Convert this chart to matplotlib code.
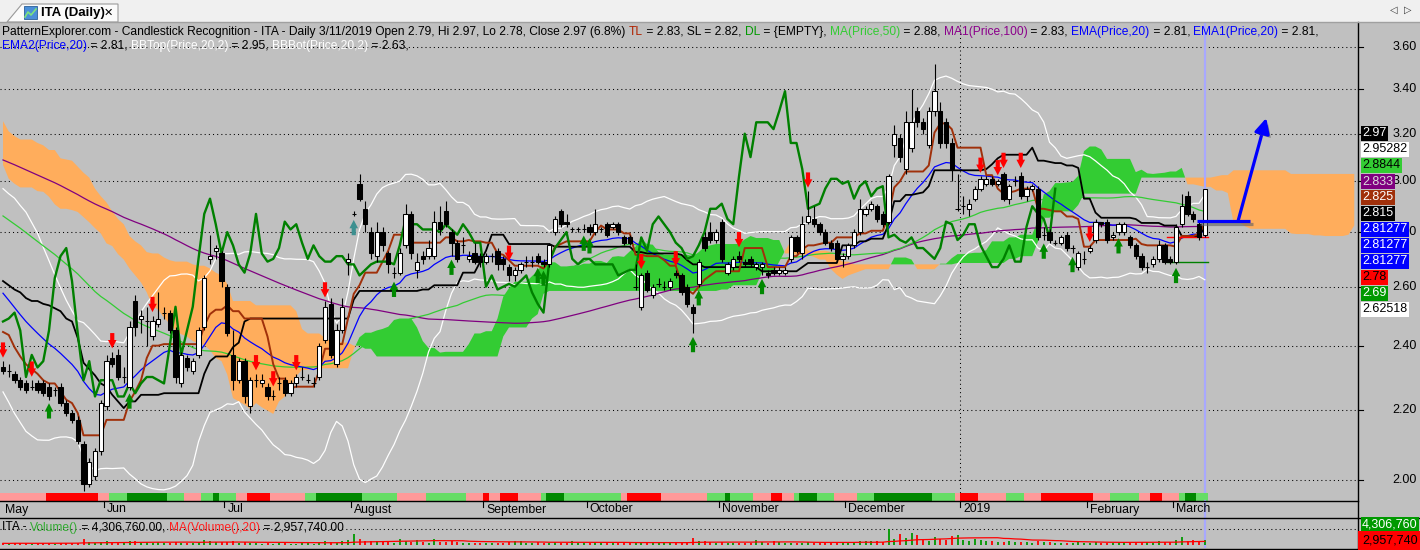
import numpy as np
import pandas as pd
import matplotlib
matplotlib.use('Agg')
import matplotlib.pyplot as plt
import matplotlib.patheffects as pe
from matplotlib.patches import Rectangle, Polygon
from matplotlib.lines import Line2D
from matplotlib.ticker import NullLocator
from matplotlib.transforms import blended_transform_factory as blend, ScaledTranslation

plt.rcParams['font.family'] = ['Liberation Sans', 'DejaVu Sans']

W, H = 1420, 550
BG = '#c0c0c0'

# closes before the first bar on screen (only feed the indicators)
pre_close = [3.28, 3.31, 3.30, 3.34, 3.37, 3.33, 3.29, 3.26, 3.29, 3.33,
             3.36, 3.40, 3.37, 3.34, 3.31, 3.28, 3.25, 3.27, 3.31, 3.35,
             3.39, 3.42, 3.38, 3.35, 3.32, 3.36, 3.40, 3.44, 3.47, 3.50,
             3.48, 3.45, 3.46, 3.41, 3.38, 3.40, 3.35, 3.31, 3.33, 3.28,
             3.24, 3.26, 3.21, 3.18, 3.20, 3.15, 3.12, 3.14, 3.10, 3.07, 3.09,
             3.11, 3.08, 3.05, 3.09, 3.12, 3.10, 3.06, 3.03, 3.07, 3.10,
             3.08, 3.04, 3.01, 3.05, 3.09, 3.11, 3.07, 3.04, 3.08, 3.06,
             3.03, 3.05, 3.08, 3.04,
             2.92, 2.88, 2.85, 2.89, 2.86, 2.82, 2.84, 2.80, 2.83, 2.78,
             2.81, 2.77, 2.79, 2.74,
             2.70, 2.66, 2.62, 2.57, 2.55, 2.50, 2.46, 2.42, 2.39, 2.36, 2.33]

# daily bars, May 2018 - 11 Mar 2019
opens = [2.33, 2.32, 2.31, 2.29, 2.28, 2.27, 2.28, 2.28, 2.27, 2.26,
         2.27, 2.22, 2.19, 2.17, 2.10, 1.99, 2.01, 2.08, 2.21, 2.36,
         2.37, 2.30, 2.27, 2.55, 2.49, 2.48, 2.43, 2.47, 2.51, 2.51,
         2.45, 2.28, 2.36, 2.32, 2.37, 2.46, 2.70, 2.73, 2.72, 2.60,
         2.37, 2.29, 2.35, 2.21, 2.29, 2.28, 2.27, 2.24, 2.28, 2.29,
         2.25, 2.28, 2.30, 2.29, 2.28, 2.30, 2.42, 2.54, 2.34, 2.45,
         2.69, 2.87, 2.99, 2.89, 2.80, 2.71, 2.80, 2.72, 2.65, 2.65,
         2.75, 2.87, 2.66, 2.71, 2.71, 2.71, 2.84, 2.88, 2.80, 2.76,
         2.75, 2.70, 2.72, 2.71, 2.69, 2.71, 2.73, 2.70, 2.67, 2.64,
         2.66, 2.69, 2.69, 2.71, 2.69, 2.68, 2.80, 2.88, 2.84, 2.81,
         2.81, 2.81, 2.82, 2.80, 2.81, 2.83, 2.82, 2.83, 2.78, 2.78,
         2.60, 2.53, 2.65, 2.57, 2.61, 2.60, 2.60, 2.65, 2.64, 2.60,
         2.53, 2.61, 2.78, 2.80, 2.77, 2.84, 2.65, 2.67, 2.71, 2.69,
         2.70, 2.67, 2.67, 2.65, 2.66, 2.65, 2.65, 2.70, 2.78, 2.72,
         2.84, 2.85, 2.83, 2.80, 2.76, 2.76, 2.70, 2.71, 2.75, 2.80,
         2.87, 2.89, 2.90, 2.87, 2.84, 3.15, 3.18, 3.05, 3.14, 3.30,
         3.25, 3.15, 3.30, 3.30, 3.25, 3.16, 2.89, 2.90, 2.89, 2.93,
         2.97, 2.99, 3.01, 2.99, 3.03, 2.93, 3.00, 3.02, 2.94, 2.97,
         2.97, 2.79, 2.80, 2.76, 2.76, 2.79, 2.74, 2.67, 2.70, 2.73,
         2.77, 2.84, 2.84, 2.78, 2.80, 2.80, 2.78, 2.75, 2.71, 2.67,
         2.68, 2.70, 2.75, 2.70, 2.69, 2.83, 2.94, 2.87, 2.83, 2.79]
highs = [2.35, 2.34, 2.32, 2.30, 2.29, 2.29, 2.29, 2.29, 2.28, 2.27,
         2.28, 2.23, 2.20, 2.18, 2.11, 2.06, 2.09, 2.23, 2.37, 2.38,
         2.39, 2.33, 2.48, 2.57, 2.52, 2.53, 2.50, 2.58, 2.53, 2.52,
         2.46, 2.38, 2.37, 2.36, 2.46, 2.64, 2.79, 2.75, 2.73, 2.61,
         2.45, 2.36, 2.36, 2.30, 2.31, 2.31, 2.28, 2.26, 2.30, 2.30,
         2.29, 2.31, 2.33, 2.31, 2.30, 2.41, 2.55, 2.56, 2.47, 2.56,
         2.72, 2.88, 3.03, 2.92, 2.82, 2.84, 2.82, 2.73, 2.67, 2.74,
         2.91, 2.88, 2.72, 2.73, 2.77, 2.88, 2.90, 2.92, 2.81, 2.77,
         2.78, 2.73, 2.76, 2.72, 2.72, 2.72, 2.74, 2.71, 2.68, 2.67,
         2.69, 2.71, 2.71, 2.72, 2.70, 2.76, 2.86, 2.89, 2.87, 2.82,
         2.82, 2.83, 2.83, 2.89, 2.82, 2.84, 2.84, 2.84, 2.79, 2.79,
         2.68, 2.65, 2.66, 2.61, 2.63, 2.62, 2.63, 2.66, 2.65, 2.61,
         2.54, 2.70, 2.80, 2.84, 2.81, 2.85, 2.69, 2.71, 2.73, 2.70,
         2.71, 2.69, 2.69, 2.66, 2.67, 2.67, 2.67, 2.79, 2.79, 2.86,
         2.96, 2.90, 2.84, 2.81, 2.77, 2.77, 2.72, 2.76, 2.81, 2.93,
         2.90, 2.92, 2.91, 2.88, 3.03, 3.24, 3.20, 3.30, 3.40, 3.32,
         3.27, 3.32, 3.52, 3.34, 3.27, 3.18, 3.03, 2.94, 2.93, 2.98,
         3.02, 3.02, 3.02, 3.01, 3.04, 2.99, 3.02, 3.04, 2.98, 2.99,
         2.98, 2.82, 2.81, 2.77, 2.79, 2.80, 2.75, 2.73, 2.73, 2.75,
         2.85, 2.84, 2.85, 2.80, 2.84, 2.84, 2.79, 2.76, 2.72, 2.69,
         2.71, 2.77, 2.76, 2.71, 2.83, 2.95, 2.96, 2.88, 2.84, 2.97]
lows = [2.31, 2.30, 2.28, 2.26, 2.25, 2.26, 2.25, 2.24, 2.23, 2.24,
        2.21, 2.18, 2.16, 2.10, 1.97, 1.98, 2.00, 2.07, 2.20, 2.33,
        2.29, 2.28, 2.26, 2.43, 2.44, 2.40, 2.42, 2.46, 2.49, 2.44,
        2.28, 2.27, 2.32, 2.31, 2.36, 2.45, 2.68, 2.70, 2.60, 2.43,
        2.26, 2.28, 2.22, 2.19, 2.27, 2.27, 2.23, 2.23, 2.26, 2.24,
        2.24, 2.27, 2.29, 2.28, 2.27, 2.29, 2.41, 2.36, 2.33, 2.44,
        2.64, 2.86, 2.92, 2.80, 2.70, 2.69, 2.73, 2.65, 2.63, 2.64,
        2.74, 2.70, 2.63, 2.68, 2.70, 2.70, 2.79, 2.82, 2.71, 2.69,
        2.72, 2.69, 2.68, 2.67, 2.68, 2.69, 2.66, 2.66, 2.62, 2.62,
        2.65, 2.67, 2.67, 2.68, 2.67, 2.67, 2.79, 2.82, 2.82, 2.80,
        2.80, 2.80, 2.79, 2.79, 2.80, 2.78, 2.81, 2.79, 2.75, 2.75,
        2.59, 2.52, 2.58, 2.56, 2.60, 2.59, 2.59, 2.63, 2.57, 2.53,
        2.44, 2.60, 2.73, 2.76, 2.76, 2.69, 2.64, 2.66, 2.69, 2.67,
        2.67, 2.66, 2.64, 2.63, 2.64, 2.64, 2.64, 2.69, 2.72, 2.70,
        2.83, 2.82, 2.79, 2.75, 2.73, 2.69, 2.67, 2.70, 2.74, 2.79,
        2.86, 2.88, 2.84, 2.82, 2.83, 3.10, 3.08, 3.03, 3.12, 3.23,
        3.20, 3.14, 3.28, 3.14, 3.14, 3.00, 2.88, 2.87, 2.86, 2.92,
        2.96, 2.98, 2.98, 2.98, 2.92, 2.91, 2.98, 2.93, 2.92, 2.96,
        2.77, 2.77, 2.76, 2.75, 2.75, 2.73, 2.72, 2.66, 2.68, 2.72,
        2.76, 2.82, 2.76, 2.77, 2.79, 2.79, 2.74, 2.70, 2.66, 2.65,
        2.67, 2.69, 2.68, 2.68, 2.68, 2.82, 2.86, 2.84, 2.77, 2.78]
closes = [2.32, 2.32, 2.29, 2.27, 2.26, 2.27, 2.26, 2.25, 2.24, 2.26,
          2.22, 2.19, 2.17, 2.11, 1.99, 2.05, 2.08, 2.22, 2.35, 2.34,
          2.30, 2.30, 2.46, 2.46, 2.50, 2.48, 2.48, 2.49, 2.51, 2.45,
          2.30, 2.37, 2.33, 2.35, 2.45, 2.63, 2.71, 2.74, 2.62, 2.44,
          2.29, 2.35, 2.24, 2.29, 2.29, 2.29, 2.24, 2.24, 2.28, 2.25,
          2.28, 2.30, 2.30, 2.29, 2.28, 2.40, 2.53, 2.37, 2.45, 2.53,
          2.70, 2.87, 2.93, 2.83, 2.72, 2.80, 2.75, 2.68, 2.65, 2.72,
          2.87, 2.72, 2.69, 2.70, 2.74, 2.84, 2.81, 2.83, 2.76, 2.70,
          2.75, 2.71, 2.69, 2.69, 2.71, 2.71, 2.68, 2.68, 2.64, 2.66,
          2.68, 2.69, 2.69, 2.69, 2.68, 2.75, 2.85, 2.83, 2.83, 2.81,
          2.81, 2.81, 2.80, 2.83, 2.81, 2.79, 2.83, 2.80, 2.76, 2.76,
          2.60, 2.64, 2.59, 2.60, 2.61, 2.60, 2.62, 2.64, 2.58, 2.54,
          2.51, 2.69, 2.74, 2.77, 2.80, 2.70, 2.68, 2.70, 2.70, 2.68,
          2.68, 2.68, 2.68, 2.64, 2.65, 2.66, 2.66, 2.78, 2.73, 2.83,
          2.86, 2.83, 2.80, 2.76, 2.74, 2.70, 2.71, 2.75, 2.80, 2.89,
          2.89, 2.91, 2.85, 2.83, 3.02, 3.20, 3.10, 3.25, 3.25, 3.25,
          3.22, 3.30, 3.39, 3.16, 3.16, 3.05, 2.89, 2.90, 2.91, 2.97,
          3.01, 3.01, 2.99, 3.00, 2.93, 2.98, 3.00, 2.94, 2.97, 2.98,
          2.78, 2.79, 2.77, 2.76, 2.78, 2.74, 2.74, 2.72, 2.70, 2.74,
          2.84, 2.83, 2.77, 2.79, 2.83, 2.83, 2.75, 2.71, 2.67, 2.67,
          2.70, 2.75, 2.69, 2.69, 2.82, 2.90, 2.87, 2.85, 2.78, 2.97]
# volume in millions of shares
volume_m = [1.2, 1.0, 1.5, 1.3, 1.1, 0.9, 1.4, 1.2, 1.6, 1.0, 1.8, 1.5, 1.3, 2.0,
            5.5, 2.5, 1.8, 2.2, 3.5,
            2.0, 2.6, 1.5, 4.0, 3.2, 1.8, 2.1, 1.6, 2.4, 1.2, 1.7,
            2.8, 2.0, 1.4, 1.3, 2.2, 4.2, 3.8, 2.5, 3.0, 2.9, 3.1,
            1.8, 2.3, 1.9, 1.2, 1.0, 1.5, 0.9, 1.1, 1.3, 1.0, 0.9, 1.2, 1.1, 1.0, 2.2, 3.5, 2.8, 2.0, 3.4,
            5.0, 10.5, 6.0, 4.0, 3.2, 3.6, 2.8, 2.5, 2.0, 5.2, 3.8, 3.0, 4.5, 2.2, 2.0, 5.5, 3.0, 2.6, 3.4, 2.8,
            2.0, 1.6, 1.9, 1.5,
            1.4, 1.6, 2.0, 1.7, 2.2, 4.0, 3.5, 2.0, 1.6, 2.4, 2.0, 1.8, 2.6, 1.5, 1.7, 3.8,
            1.9, 1.5, 1.3, 2.1, 1.4, 1.8, 1.6, 2.2, 1.7, 2.0, 2.3, 1.6, 1.8, 1.4, 1.5, 1.9, 2.5, 2.1, 2.0, 2.8,
            6.2, 4.0, 3.5, 2.4, 2.0, 3.0, 1.8, 1.6, 1.5, 1.4, 1.7, 4.8, 2.5, 2.0, 3.2, 2.2, 1.8, 1.5, 1.6, 1.4,
            2.6, 2.0, 1.7, 1.5, 1.6, 2.4, 1.9, 1.8, 2.2, 3.8, 4.0, 3.2, 3.5, 2.5,
            16.0, 6.0, 10.5, 6.5, 12.0, 10.0, 4.5, 4.0, 7.5, 6.0, 4.5, 9.0, 9.5, 5.0, 4.0, 5.2,
            4.5, 3.8, 4.0, 3.0, 2.8, 3.2, 2.5, 2.6, 2.2, 2.0,
            3.5, 2.4, 2.2, 1.9, 2.0, 1.8, 1.6, 2.2, 1.5, 1.7, 2.6, 1.8, 2.0, 1.6, 2.4,
            2.0, 2.8, 2.5, 3.0, 2.2, 2.0, 3.2, 2.6, 2.4, 4.5, 7.5, 4.0, 5.0, 3.8, 4.3]

month_labels = ['May', 'Jun', 'Jul', 'August', 'September', 'October',
                'November', 'December', '2019', 'February', 'March']
month_bars = [0, 18, 39, 61, 84, 102, 125, 147, 167, 189, 204]

red_arrow_bars = [0, 5, 19, 26, 44, 47, 51, 56, 88, 111, 117, 128, 140,
                  170, 173, 174, 177, 189]
green_arrow_bars = [8, 22, 68, 78, 93, 94, 101, 102, 120, 121, 132,
                    181, 186, 194, 204]
teal_arrow_bars = [61]

# trend strip along the bottom of the price pane: run codes and lengths
strip_codes = 'prplglplgl' 'prplglplpr' 'prplglprpl' 'glprplglpl' 'glprplprpl' 'prplgl'
strip_lengths = [8, 9, 2, 3, 7, 3, 3, 2, 1, 3,
                 2, 4, 6, 2, 8, 6, 5, 7, 3, 1,
                 2, 3, 4, 1, 3, 10, 1, 6, 8, 3,
                 1, 4, 3, 2, 2, 1, 3, 3, 4, 3,
                 10, 4, 1, 3, 5, 3, 3, 9, 3, 5,
                 2, 2, 3, 1, 2, 2]
strip_colors = {'p': '#ff9999', 'r': '#ff0000', 'l': '#66dd66', 'g': '#008800'}

price_levels = [2.0, 2.2, 2.4, 2.6, 2.8, 3.0, 3.2, 3.4, 3.6]

tag_texts = ['2.97', '2.95282', '2.8844', '2.833', '2.825', '2.815',
             '2.81277', '2.81277', '2.81277', '2.78', '2.69', '2.62518']
tag_faces = ['#000000', '#ffffff', '#33cc33', '#800080', '#a0300a', '#000000',
             '#0000ff', '#0000ff', '#0000ff', '#ff0000', '#009900', '#ffffff']
tag_inks = ['white', 'black', 'black', '#dddddd', 'white', 'white',
            'white', 'white', 'white', 'black', 'white', 'black']

assert len(opens) == len(highs) == len(lows) == len(closes) == len(volume_m) == 210
assert len(pre_close) == 100 and sum(strip_lengths) == 210

n = len(closes)
npre = len(pre_close)
x = np.arange(n)
o, h, l, c = map(np.array, (opens, highs, lows, closes))
full = pd.Series(pre_close + closes)


def midrange(s, w):
    return (s.rolling(w).max() + s.rolling(w).min()) / 2


tenkan = midrange(full, 9).to_numpy()[npre:]
kijun = midrange(full, 26).to_numpy()[npre:]
span_a = ((midrange(full, 9) + midrange(full, 26)) / 2).to_numpy()
span_b = midrange(full, 52).to_numpy()
xc = np.arange(n + 26)
cloud_a = span_a[npre - 26:npre + n]
cloud_b = span_b[npre - 26:npre + n]

ema20 = full.ewm(span=20, adjust=False).mean().to_numpy()[npre:]
sma20 = full.rolling(20).mean()
sd20 = full.rolling(20).std(ddof=0)
bb_top = (sma20 + 2 * sd20).to_numpy()[npre:]
bb_bot = (sma20 - 2 * sd20).to_numpy()[npre:]
ma50 = full.rolling(50).mean().to_numpy()[npre:]
ma100 = full.rolling(100).mean().to_numpy()[npre:]

fig = plt.figure(figsize=(W / 100, H / 100), dpi=100, facecolor=BG)
XL = (-0.522, 235.65)


def fy(ypx):
    return 1 - ypx / H


ax = fig.add_axes([0, fy(501), 1358 / W, 479 / H], facecolor=BG)
ax.set_yscale('log')
ax.set_ylim(1.9437, 3.724)
ax.set_xlim(*XL)
ax.xaxis.set_major_locator(NullLocator())
ax.yaxis.set_major_locator(NullLocator())
ax.yaxis.set_minor_locator(NullLocator())
for sp in ax.spines.values():
    sp.set_visible(False)

dots = (0, (1, 3))
for p in price_levels:
    ax.axhline(p, color='black', lw=0.75, ls=dots, zorder=0.5)
ax.axvline(month_bars[8] - 0.5, color='black', lw=0.75, ls=dots, zorder=0.5)

# ichimoku cloud
ax.fill_between(xc, cloud_a, cloud_b, where=cloud_a >= cloud_b, interpolate=True,
                color='#33cc33', lw=0, zorder=1)
ax.fill_between(xc, cloud_a, cloud_b, where=cloud_a < cloud_b, interpolate=True,
                color='#ffad5c', lw=0, zorder=1)

ax.axvline(n - 1, color='#a8a8ff', lw=1.6, zorder=1.2)

ax.plot(x, bb_top, color='white', lw=0.9, zorder=2)
ax.plot(x, bb_bot, color='white', lw=0.9, zorder=2)
ax.plot(x, ma100, color='#800080', lw=0.9, zorder=2)
ax.plot(x, ma50, color='#33cc33', lw=0.9, zorder=2)
ax.plot(x, ema20, color='#0000ff', lw=0.9, zorder=2)
ax.plot(x, kijun, color='black', lw=1.3, zorder=2.2)
ax.plot(x, tenkan, color='#a0300a', lw=1.4, zorder=2.3)
ax.plot(x[:n - 26], c[26:], color='#008000', lw=1.7, zorder=2.4)

# short levels at the last bars
ax.plot([202.5, 209.5], [2.69, 2.69], color='#008000', lw=1.0, zorder=2.5)
ax.plot([202.5, 209.5], [2.78, 2.78], color='#ff0000', lw=1.0, zorder=2.5)

# candles
ax.vlines(x, l, h, color='black', lw=0.8, zorder=3)
up = c >= o
body_lo = np.minimum(o, c)
body_h = np.abs(c - o)
ax.bar(x[up], body_h[up], bottom=body_lo[up], width=0.75, color='white',
       edgecolor='black', lw=0.75, zorder=3.5)
ax.bar(x[~up], body_h[~up], bottom=body_lo[~up], width=0.75, color='black',
       edgecolor='black', lw=0.75, zorder=3.5)

arrow_style = 'simple,head_length=0.6,head_width=0.62,tail_width=0.3'


def signal_arrow(i, price, direction, color):
    ax.annotate('', xy=(i, price), xytext=(0, 13.5 * direction), textcoords='offset points',
                arrowprops=dict(arrowstyle=arrow_style, fc=color, ec='none',
                                shrinkA=0, shrinkB=2.5), zorder=5)


for i in red_arrow_bars:
    signal_arrow(i, h[i], 1, '#ff0000')
for i in green_arrow_bars:
    signal_arrow(i, l[i], -1, '#008800')
for i in teal_arrow_bars:
    signal_arrow(i, l[i], -1, '#3d9090')

# trend strip
strip_tr = blend(ax.transData, ax.transAxes)
pos = 0
for code, ln in zip(strip_codes, strip_lengths):
    ax.add_patch(Rectangle((pos - 0.5, 0.001), ln, 8 / 479, transform=strip_tr,
                           fc=strip_colors[code], ec='none', zorder=4))
    pos += ln

# hand drawn annotation
shadow_l = [pe.SimpleLineShadow(offset=(2, -2), shadow_color='#606060', alpha=0.6), pe.Normal()]
ax.plot([207.7, 216.9], [2.843, 2.843], color='#0000ff', lw=2.3,
        solid_capstyle='butt', path_effects=shadow_l, zorder=6)
arr = ax.annotate('', xy=(219.7, 3.269), xytext=(214.8, 2.843),
                  arrowprops=dict(arrowstyle='-|>,head_length=0.9,head_width=0.45',
                                  color='#0000ff', lw=2.3, shrinkA=0, shrinkB=0), zorder=6)
arr.arrow_patch.set_path_effects([pe.SimplePatchShadow(offset=(2, -2), shadow_rgbFace='#606060',
                                                       alpha=0.6), pe.Normal()])

# volume pane
axv = fig.add_axes([0, fy(548), 1358 / W, 30 / H], facecolor=BG)
axv.set_xlim(*XL)
axv.set_ylim(-3.5, 26.5)
axv.xaxis.set_major_locator(NullLocator())
axv.yaxis.set_major_locator(NullLocator())
for sp in axv.spines.values():
    sp.set_visible(False)
axv.axhline(16, color='black', lw=0.75, ls=dots, zorder=0.5)
axv.axvline(n - 1, color='#a8a8ff', lw=1.6, zorder=1)
vcol = np.where(up, '#009900', '#ff0000')
axv.vlines(x, 0, volume_m, colors=vcol, lw=1.3, zorder=2)
vma = pd.Series(volume_m).rolling(20, min_periods=1).mean()
axv.plot(x, vma, color='#ff0000', lw=0.9, zorder=3)


# frame lines
def fline(x0, y0, x1, y1, color='black', lw=1.0, tr=None, z=3):
    fig.add_artist(Line2D([x0, x1], [y0, y1], color=color, lw=lw,
                          transform=tr if tr is not None else fig.transFigure, zorder=z))


fline(0, fy(501), 1358 / W, fy(501))
fline(0, fy(518), 1, fy(518))
fline(0, fy(548.5), 1, fy(548.5))
fline(1358 / W, fy(22), 1358 / W, fy(548.5))
xfig = blend(ax.transData, fig.transFigure)
fline(n - 1, fy(501), n - 1, fy(518), color='#a8a8ff', lw=1.6, tr=xfig, z=2)

# date axis
label_shift = xfig + ScaledTranslation(3 / 100, 0, fig.dpi_scale_trans)
for name, b in zip(month_labels, month_bars):
    if b == 0:
        fig.text(5 / W, fy(509.5), name, fontsize=8.8, va='center', ha='left')
        continue
    fline(b - 0.5, fy(501), b - 0.5, fy(507), lw=0.8, tr=xfig)
    fig.text(b - 0.5, fy(509.5), name, transform=label_shift, fontsize=8.8, va='center', ha='left')

# price scale
yfig = blend(fig.transFigure, ax.transData)
for p in price_levels:
    fig.add_artist(Line2D([1358 / W, 1363 / W], [p, p], color='black', lw=0.8, transform=yfig))
    fig.text(1417 / W, p, f'{p:.2f}', transform=yfig, fontsize=9, ha='right', va='center', zorder=4)

for k, (t, fc, ink) in enumerate(zip(tag_texts, tag_faces, tag_inks)):
    fig.text(1362 / W, fy(133.5 + 16 * k), t, color=ink, fontsize=9, ha='left', va='center',
             zorder=6, bbox=dict(boxstyle='square,pad=0.12', fc=fc, ec='none'))

fig.text(1362 / W, fy(524.5), '4,306,760', color='white', fontsize=9, ha='left', va='center',
         zorder=6, bbox=dict(boxstyle='square,pad=0.12', fc='#009900', ec='none'))
fig.text(1362 / W, fy(540.5), '2,957,740', color='black', fontsize=9, ha='left', va='center',
         zorder=6, bbox=dict(boxstyle='square,pad=0.3', fc='#ff0000', ec='none'))

# header lines
renderer = fig.canvas.get_renderer()


def text_width(s, size):
    t1 = fig.text(0, 0, '|' + s + '|', fontsize=size)
    t2 = fig.text(0, 0, '||', fontsize=size)
    w = t1.get_window_extent(renderer).width - t2.get_window_extent(renderer).width
    t1.remove()
    t2.remove()
    return w


def rich_text(parts, x0, yc, size=8.65):
    xp = x0
    for s, col in parts:
        fig.text(xp / W, fy(yc), s, color=col, fontsize=size, ha='left', va='center', zorder=6)
        xp += text_width(s, size)


rich_text([('PatternExplorer.com - Candlestick Recognition - ITA - Daily 3/11/2019 Open 2.79, Hi 2.97, '
            'Lo 2.78, Close 2.97 (6.8%) ', 'black'), ('TL', '#b02200'), (' = 2.83, SL = 2.82, ', 'black'),
           ('DL', '#009900'), (' = {EMPTY}, ', 'black'), ('MA(Price,50)', '#33cc33'),
           (' = 2.88, ', 'black'), ('MA1(Price,100)', '#8b008b'), (' = 2.83, ', 'black'),
           ('EMA(Price,20)', '#0000ff'), (' = 2.81, ', 'black'), ('EMA1(Price,20)', '#0000ff'),
           (' = 2.81,', 'black')], 2, 32)
rich_text([('EMA2(Price,20)', '#0000ff'), (' = 2.81, ', 'black'), ('BBTop(Price,20,2)', 'white'),
           (' = 2.95, ', 'black'), ('BBBot(Price,20,2)', 'white'), (' = 2.63,', 'black')], 2, 45.5)
rich_text([('ITA - ', 'black'), ('Volume()', '#33aa33'), (' = 4,306,760.00, ', 'black'),
           ('MA(Volume(),20)', '#ff2020'), (' = 2,957,740.00', 'black')], 2, 527.5)

# tab strip
fig.add_artist(Rectangle((0, fy(22)), 1, 22 / H, transform=fig.transFigure, fc='#f0f0f0', ec='none', zorder=1))
fline(0, fy(22), 1, fy(22), color='#a0a0a0', lw=1.0)
tab = [(7 / W, fy(22)), (22 / W, fy(4)), (118 / W, fy(4)), (118 / W, fy(22))]
fig.add_artist(Polygon(tab, closed=True, transform=fig.transFigure, fc='#fbfbfb', ec='#9a9a9a', lw=0.8, zorder=2))
fig.add_artist(Rectangle((24 / W, fy(19)), 13 / W, 13 / H, transform=fig.transFigure,
                         fc='#4a8fd8', ec='#2a5f98', lw=0.6, zorder=3))
fig.add_artist(Line2D([25 / W, 28 / W, 31 / W, 36 / W], [fy(17), fy(12), fy(15), fy(9)],
                      transform=fig.transFigure, color='#7de37d', lw=1.2, zorder=4))
fig.text(41 / W, fy(13), 'ITA (Daily)', fontsize=9.5, fontweight='bold', ha='left', va='center', zorder=4)
fig.text(104 / W, fy(13), '✕', family=['DejaVu Sans'], fontsize=8, ha='left', va='center', zorder=4)
fig.text(1390 / W, fy(10), '◁', family=['DejaVu Sans'], fontsize=7, ha='left', va='center', color='#333333', zorder=4)
fig.text(1404 / W, fy(10), '▷', family=['DejaVu Sans'], fontsize=7, ha='left', va='center', color='#333333', zorder=4)

fig.savefig('out.png', dpi=100, facecolor=BG)
